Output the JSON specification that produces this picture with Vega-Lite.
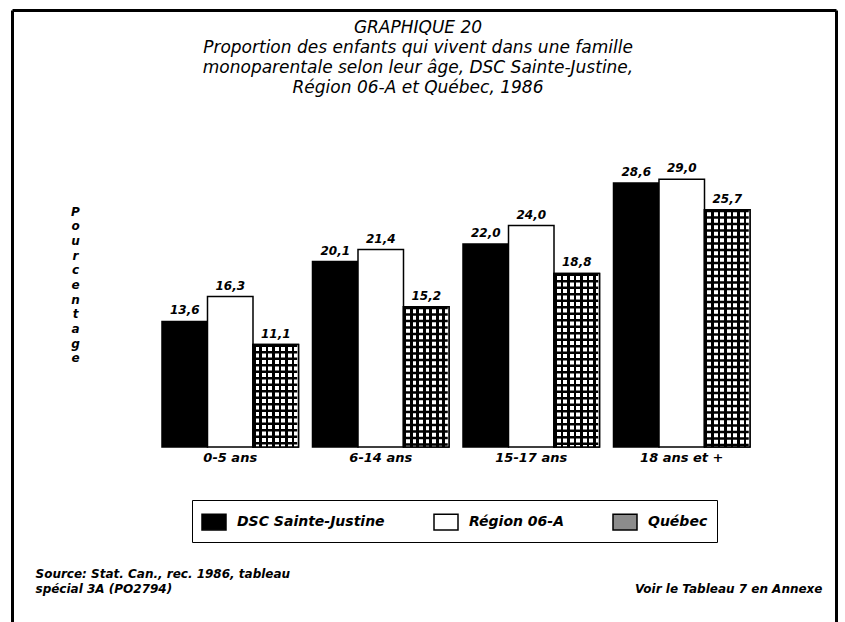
{
  "$schema": "https://vega.github.io/schema/vega-lite/v6.json",
  "width": 824,
  "height": 612,
  "autosize": {"type": "none"},
  "padding": {"left": 12, "top": 10, "right": 9, "bottom": 0},
  "background": "white",
  "title": {
    "text": ["GRAPHIQUE 20", "Proportion des enfants qui vivent dans une famille", "monoparentale selon leur âge, DSC Sainte-Justine,", "Région 06-A et Québec, 1986"],
    "orient": "top",
    "anchor": "middle",
    "frame": "group",
    "offset": -104,
    "baseline": "bottom",
    "dx": -6,
    "font": "DejaVu Sans",
    "fontSize": 17,
    "fontStyle": "italic",
    "fontWeight": "normal",
    "color": "black",
    "lineHeight": 20
  },
  "data": {
    "values": [
      {"age": "0-5 ans", "serie": "DSC Sainte-Justine", "valeur": 13.6},
      {"age": "0-5 ans", "serie": "Région 06-A", "valeur": 16.3},
      {"age": "0-5 ans", "serie": "Québec", "valeur": 11.1},
      {"age": "6-14 ans", "serie": "DSC Sainte-Justine", "valeur": 20.1},
      {"age": "6-14 ans", "serie": "Région 06-A", "valeur": 21.4},
      {"age": "6-14 ans", "serie": "Québec", "valeur": 15.2},
      {"age": "15-17 ans", "serie": "DSC Sainte-Justine", "valeur": 22.0},
      {"age": "15-17 ans", "serie": "Région 06-A", "valeur": 24.0},
      {"age": "15-17 ans", "serie": "Québec", "valeur": 18.8},
      {"age": "18 ans et +", "serie": "DSC Sainte-Justine", "valeur": 28.6},
      {"age": "18 ans et +", "serie": "Région 06-A", "valeur": 29.0},
      {"age": "18 ans et +", "serie": "Québec", "valeur": 25.7}
    ]
  },
  "layer": [
    {
      "mark": {"type": "bar", "stroke": "black", "strokeWidth": 1.5},
      "encoding": {
        "x": {
          "field": "age", "type": "nominal",
          "sort": ["0-5 ans", "6-14 ans", "15-17 ans", "18 ans et +"],
          "scale": {"paddingInner": 0.093, "paddingOuter": 0.784, "align": 0.6356},
          "axis": {
            "orient": "bottom", "offset": -175, "domain": false, "ticks": false,
            "labelPadding": 4, "labelAngle": 0, "labelFont": "DejaVu Sans", "labelFontSize": 13,
            "labelFontStyle": "italic", "labelFontWeight": "bold", "labelColor": "black", "title": null
          }
        },
        "xOffset": {
          "field": "serie", "type": "nominal",
          "scale": {"domain": ["DSC Sainte-Justine", "Région 06-A", "Québec"], "paddingInner": 0, "paddingOuter": 0}
        },
        "y": {
          "field": "valeur", "type": "quantitative", "stack": null,
          "scale": {"domain": [-18.96, 47.35], "nice": false, "zero": true},
          "axis": {
            "orient": "left", "domain": true, "domainColor": "black", "domainWidth": 3,
            "ticks": false, "labels": false, "grid": false,
            "title": ["P", "o", "u", "r", "c", "e", "n", "t", "a", "g", "e"],
            "titleAngle": 0, "titleX": 63, "titleY": 196, "titleAlign": "center", "titleBaseline": "top",
            "titleFont": "DejaVu Sans", "titleFontSize": 12, "titleFontStyle": "italic", "titleFontWeight": "bold",
            "titleColor": "black", "titleLineHeight": 14.7
          }
        },
        "fill": {
          "field": "serie", "type": "nominal",
          "scale": {
            "domain": ["DSC Sainte-Justine", "Région 06-A", "Québec"],
            "range": ["black", "white", "#8c8c8c"]
          },
          "legend": {
            "title": null, "orient": "none", "legendX": 180, "legendY": 490, "direction": "horizontal",
            "strokeColor": "black", "fillColor": "white", "padding": 9, "columnPadding": 46, "labelOffset": 10,
            "symbolType": "M-1,-0.65H1V0.65H-1Z", "symbolSize": 576, "symbolStrokeColor": "black", "symbolStrokeWidth": 1.5,
            "labelFont": "DejaVu Sans", "labelFontSize": 14, "labelFontStyle": "italic", "labelFontWeight": "bold",
            "labelColor": "black", "labelLimit": 300
          }
        }
      }
    },
    {
      "transform": [{"filter": "datum.serie === 'Québec'"}],
      "mark": {
        "type": "bar", "stroke": "black", "strokeWidth": 1.5,
        "fill": {
          "gradient": "linear", "x1": 0, "y1": 0, "x2": 1, "y2": 0,
          "stops": [
            {"offset": 0, "color": "black"}, {"offset": 0.055, "color": "black"}, {"offset": 0.055, "color": "white"}, {"offset": 0.1429, "color": "white"},
            {"offset": 0.1429, "color": "black"}, {"offset": 0.1979, "color": "black"}, {"offset": 0.1979, "color": "white"}, {"offset": 0.2857, "color": "white"},
            {"offset": 0.2857, "color": "black"}, {"offset": 0.3407, "color": "black"}, {"offset": 0.3407, "color": "white"}, {"offset": 0.4286, "color": "white"},
            {"offset": 0.4286, "color": "black"}, {"offset": 0.4836, "color": "black"}, {"offset": 0.4836, "color": "white"}, {"offset": 0.5714, "color": "white"},
            {"offset": 0.5714, "color": "black"}, {"offset": 0.6264, "color": "black"}, {"offset": 0.6264, "color": "white"}, {"offset": 0.7143, "color": "white"},
            {"offset": 0.7143, "color": "black"}, {"offset": 0.7693, "color": "black"}, {"offset": 0.7693, "color": "white"}, {"offset": 0.8571, "color": "white"},
            {"offset": 0.8571, "color": "black"}, {"offset": 0.9121, "color": "black"}, {"offset": 0.9121, "color": "white"}, {"offset": 1, "color": "white"}
          ]
        }
      },
      "encoding": {
        "x": {"field": "age", "type": "nominal", "sort": ["0-5 ans", "6-14 ans", "15-17 ans", "18 ans et +"], "axis": null},
        "xOffset": {"field": "serie", "type": "nominal", "scale": {"domain": ["DSC Sainte-Justine", "Région 06-A", "Québec"]}},
        "y": {"field": "valeur", "type": "quantitative", "stack": null, "axis": null}
      }
    },
    {
      "transform": [{"filter": "datum.serie === 'Québec'"}],
      "mark": {"type": "rule", "strokeWidth": 43, "strokeDash": [2.5, 4], "color": "black"},
      "encoding": {
        "x": {"field": "age", "type": "nominal", "sort": ["0-5 ans", "6-14 ans", "15-17 ans", "18 ans et +"], "axis": null},
        "xOffset": {"field": "serie", "type": "nominal", "scale": {"domain": ["DSC Sainte-Justine", "Région 06-A", "Québec"]}},
        "y": {"field": "valeur", "type": "quantitative", "axis": null},
        "y2": {"datum": 0}
      }
    },
    {
      "mark": {"type": "text", "baseline": "bottom", "dy": -4, "font": "DejaVu Sans", "fontSize": 12, "fontStyle": "italic", "fontWeight": "bold", "color": "black"},
      "encoding": {
        "x": {
          "field": "age", "type": "nominal", "sort": ["0-5 ans", "6-14 ans", "15-17 ans", "18 ans et +"],
          "axis": {
            "orient": "top", "domain": true, "domainColor": "black", "domainWidth": 3, "ticks": false, "labels": false,
            "title": ["Source: Stat. Can., rec. 1986, tableau", "spécial 3A (PO2794)"],
            "titleX": 23, "titleY": 558, "titleAlign": "left", "titleBaseline": "top", "titleAngle": 0,
            "titleFont": "DejaVu Sans", "titleFontSize": 12, "titleFontStyle": "italic", "titleFontWeight": "bold",
            "titleColor": "black", "titleLineHeight": 15
          }
        },
        "xOffset": {"field": "serie", "type": "nominal", "scale": {"domain": ["DSC Sainte-Justine", "Région 06-A", "Québec"]}},
        "y": {
          "field": "valeur", "type": "quantitative",
          "axis": {
            "orient": "right", "domain": true, "domainColor": "black", "domainWidth": 3, "ticks": false, "labels": false, "grid": false,
            "title": "Voir le Tableau 7 en Annexe",
            "titleX": -14, "titleY": 573, "titleAlign": "right", "titleBaseline": "top", "titleAngle": 0,
            "titleFont": "DejaVu Sans", "titleFontSize": 12, "titleFontStyle": "italic", "titleFontWeight": "bold",
            "titleColor": "black"
          }
        },
        "text": {"field": "valeur", "type": "quantitative", "format": ".1f"}
      }
    }
  ],
  "resolve": {"axis": {"x": "independent", "y": "independent"}},
  "config": {
    "view": {"stroke": null},
    "axis": {"grid": false},
    "locale": {"number": {"decimal": ",", "thousands": " ", "grouping": [3], "currency": ["", " $"]}}
  }
}
